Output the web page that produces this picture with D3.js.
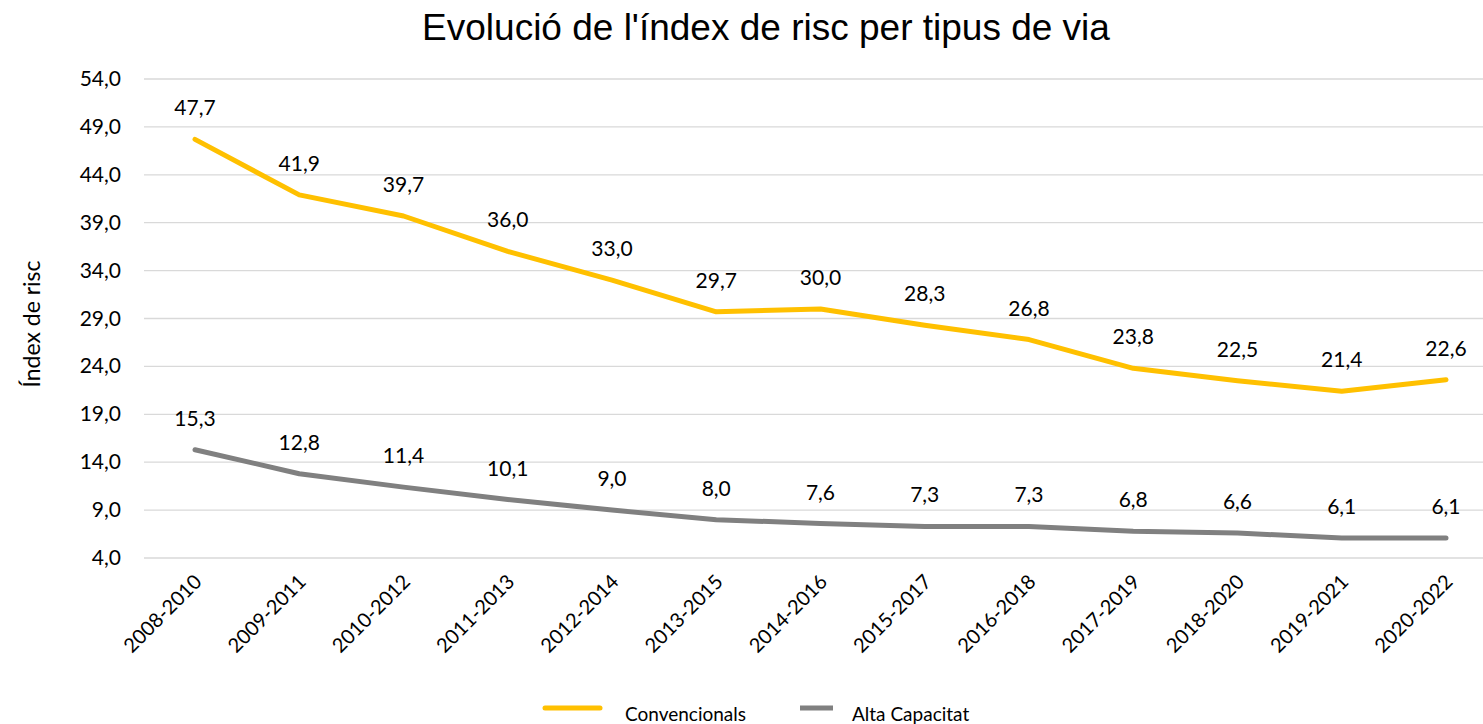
<!DOCTYPE html>
<html>
<head>
<meta charset="utf-8">
<script src="https://cdn.jsdelivr.net/npm/d3@7"></script>
<style>
  body { margin: 0; background: #fff; }
  svg { display: block; }
  .tick-lbl, .val-lbl, .leg-lbl, .y-title { font-family: Lato, "Open Sans", sans-serif; fill: #000; }
</style>
</head>
<body>
<svg id="chart" width="1483" height="724"></svg>
<script>
// data
const periods = ["2008-2010","2009-2011","2010-2012","2011-2013","2012-2014","2013-2015","2014-2016",
                 "2015-2017","2016-2018","2017-2019","2018-2020","2019-2021","2020-2022"]
const convencionals = [47.7,41.9,39.7,36.0,33.0,29.7,30.0,28.3,26.8,23.8,22.5,21.4,22.6]
const altaCapacitat = [15.3,12.8,11.4,10.1,9.0,8.0,7.6,7.3,7.3,6.8,6.6,6.1,6.1]
const yTicks = [4,9,14,19,24,29,34,39,44,49,54]
const seriesNames = ["Convencionals","Alta Capacitat"]
const colors = ["#FFC000","#808080"]

const width = 1483, height = 724
const svg = d3.select('#chart')
const fmt = v => d3.format(".1f")(v).replace(".", ",")

var x = d3.scalePoint().domain(periods).range([195, 1446])
var y = d3.scaleLinear().domain([4, 54]).range([558, 79])

// gridlines
svg.append('g').selectAll('line').data(yTicks).enter().append('line')
    .attr('x1', 144).attr('x2', width)
    .attr('y1', d => y(d)).attr('y2', d => y(d))
    .attr('stroke', '#d9d9d9').attr('stroke-width', 1.3)

// y axis labels
svg.append('g').selectAll('text').data(yTicks).enter().append('text')
    .attr('class', 'tick-lbl')
    .attr('x', 121).attr('y', d => y(d) + 7)
    .attr('text-anchor', 'end').attr('font-size', 21)
    .text(d => fmt(d))

// x axis labels, rotated
svg.append('g').selectAll('text').data(periods).enter().append('text')
    .attr('class', 'tick-lbl')
    .attr('font-size', 20)
    .attr('text-anchor', 'end')
    .attr('transform', d => 'translate(' + (x(d) + 8) + ',583) rotate(-45)')
    .text(d => d)

// title
svg.append('text')
    .attr('x', 766).attr('y', 40)
    .attr('text-anchor', 'middle')
    .attr('font-family', '"Liberation Sans", Arial, sans-serif')
    .attr('font-size', 37)
    .text("Evolució de l'índex de risc per tipus de via")

// y title
svg.append('text')
    .attr('class', 'y-title')
    .attr('font-size', 23)
    .attr('text-anchor', 'middle')
    .attr('transform', 'translate(40,324) rotate(-90)')
    .text('Índex de risc')

const line = d3.line().x((d, i) => x(periods[i])).y(d => y(d))

;[convencionals, altaCapacitat].forEach((vals, s) => {
    svg.append('path').datum(vals)
        .attr('d', line)
        .attr('fill', 'none')
        .attr('stroke', colors[s])
        .attr('stroke-width', 5)
        .attr('stroke-linejoin', 'round')
        .attr('stroke-linecap', 'round')

    svg.append('g').selectAll('text').data(vals).enter().append('text')
        .attr('class', 'val-lbl')
        .attr('font-size', 21)
        .attr('text-anchor', 'middle')
        .attr('x', (d, i) => x(periods[i]))
        .attr('y', d => y(d) - 24)
        .text(d => fmt(d))
})

// legend
const legX = [545, 800], legTxt = [625, 852], legLen = [55, 33]
seriesNames.forEach((n, s) => {
    svg.append('line')
        .attr('x1', legX[s]).attr('x2', legX[s] + legLen[s])
        .attr('y1', 708).attr('y2', 708)
        .attr('stroke', colors[s]).attr('stroke-width', 5)
        .attr('stroke-linecap', s === 0 ? 'round' : 'butt')
    svg.append('text')
        .attr('class', 'leg-lbl')
        .attr('x', legTxt[s]).attr('y', 721)
        .attr('font-size', 19)
        .text(n)
})
</script>
</body>
</html>
